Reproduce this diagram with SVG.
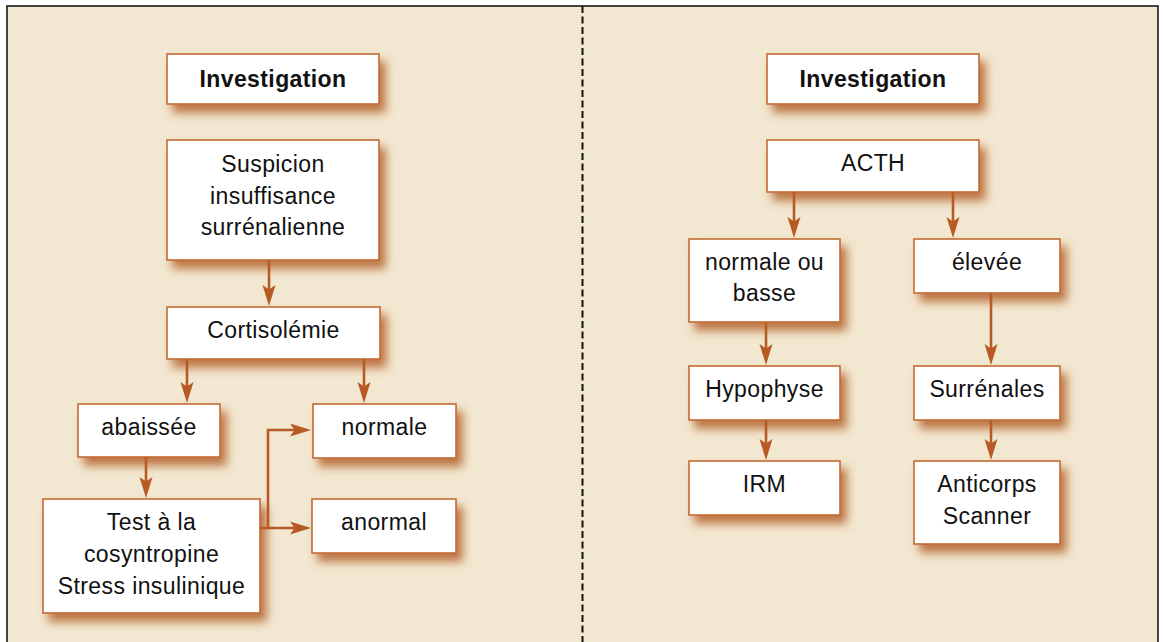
<svg xmlns="http://www.w3.org/2000/svg" width="1163" height="642" viewBox="0 0 1163 642">
  <defs>
    <filter id="sh" x="-20%" y="-20%" width="150%" height="170%">
      <feGaussianBlur in="SourceAlpha" stdDeviation="5"/>
      <feOffset dx="6" dy="8" result="b"/>
      <feFlood flood-color="#B4612A" flood-opacity="0.85"/>
      <feComposite in2="b" operator="in"/>
      <feMerge><feMergeNode/><feMergeNode in="SourceGraphic"/></feMerge>
    </filter>
    <marker id="ah" viewBox="0 0 21 14" refX="13" refY="7" markerWidth="21" markerHeight="14" markerUnits="userSpaceOnUse" orient="auto">
      <path d="M0,0.5 L21,7 L0,13.5 L4.5,7 Z" fill="#B85A24"/>
    </marker>
    <style>
      .box rect { fill: #FFFFFF; stroke: #C46B34; stroke-width: 1.6; filter: url(#sh); }
      .box text { font-family: "Liberation Sans", Arial, Helvetica, sans-serif; font-size: 23px; letter-spacing: 0.4px; fill: #111; text-anchor: middle; }
      .box text.b { font-weight: bold; }
      #connectors path { fill: none; stroke: #B85A24; stroke-width: 2.6; marker-end: url(#ah); }
    </style>
  </defs>

  <rect x="7" y="6" width="1151" height="650" fill="#F2E7D0" stroke="#1a1a1a" stroke-width="1.6"/>
  <line x1="582.5" y1="6" x2="582.5" y2="642" stroke="#111" stroke-width="2" stroke-dasharray="7,3.5"/>

  <g id="inv-left" class="box">
    <rect x="167" y="54" width="212" height="50"/>
    <text class="b" x="273" y="87">Investigation</text>
  </g>
  <g id="suspicion" class="box">
    <rect x="167" y="140" width="212" height="120"/>
    <text x="273" y="172">Suspicion</text>
    <text x="273" y="203.5">insuffisance</text>
    <text x="273" y="235">surrénalienne</text>
  </g>
  <g id="cortisolemie" class="box">
    <rect x="167" y="307" width="213" height="52"/>
    <text x="273.5" y="338">Cortisolémie</text>
  </g>
  <g id="abaissee" class="box">
    <rect x="78" y="404" width="142" height="53"/>
    <text x="149" y="435">abaissée</text>
  </g>
  <g id="normale" class="box">
    <rect x="313" y="404" width="143" height="54"/>
    <text x="384.5" y="435">normale</text>
  </g>
  <g id="test" class="box">
    <rect x="43" y="499" width="217" height="114"/>
    <text x="151.5" y="530">Test à la</text>
    <text x="151.5" y="562">cosyntropine</text>
    <text x="151.5" y="594">Stress insulinique</text>
  </g>
  <g id="anormal" class="box">
    <rect x="312" y="499" width="144" height="54"/>
    <text x="384" y="530">anormal</text>
  </g>

  <g id="inv-right" class="box">
    <rect x="767" y="54" width="212" height="50"/>
    <text class="b" x="873" y="87">Investigation</text>
  </g>
  <g id="acth" class="box">
    <rect x="767" y="140" width="212" height="52"/>
    <text x="873" y="171">ACTH</text>
  </g>
  <g id="normale-basse" class="box">
    <rect x="689" y="239" width="151" height="83"/>
    <text x="764.5" y="270">normale ou</text>
    <text x="764.5" y="301">basse</text>
  </g>
  <g id="elevee" class="box">
    <rect x="914" y="239" width="146" height="54"/>
    <text x="987" y="270">élevée</text>
  </g>
  <g id="hypophyse" class="box">
    <rect x="689" y="366" width="151" height="54"/>
    <text x="764.5" y="397">Hypophyse</text>
  </g>
  <g id="surrenales" class="box">
    <rect x="914" y="366" width="146" height="54"/>
    <text x="987" y="397">Surrénales</text>
  </g>
  <g id="irm" class="box">
    <rect x="689" y="461" width="151" height="54"/>
    <text x="764.5" y="492">IRM</text>
  </g>
  <g id="anticorps" class="box">
    <rect x="914" y="461" width="146" height="83"/>
    <text x="987" y="492">Anticorps</text>
    <text x="987" y="523.5">Scanner</text>
  </g>

  <g id="connectors">
    <path d="M269,260 V298"/>
    <path d="M187,359 V395"/>
    <path d="M364,359 V395"/>
    <path d="M146,457 V490"/>
    <path d="M260,528 H303"/>
    <path d="M268,528 V430 H303"/>
    <path d="M794,192 V230"/>
    <path d="M953,192 V230"/>
    <path d="M766,322 V357"/>
    <path d="M991,293 V357"/>
    <path d="M766,420 V452"/>
    <path d="M991,420 V452"/>
  </g>
</svg>
